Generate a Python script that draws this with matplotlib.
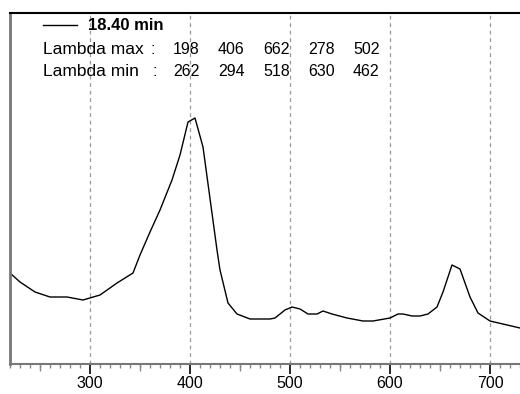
import numpy as np
import matplotlib
matplotlib.use("Agg")
import matplotlib.pyplot as plt
from matplotlib.ticker import MultipleLocator

# spectrum at 18.40 min (wavelength nm, absorbance arbitrary units)
wavelength = [220, 230, 245, 260, 277, 293, 310, 327, 343, 350, 360, 370, 382, 390,
              398, 405, 413, 427, 430, 438, 447, 460, 470, 480, 485, 495, 502, 510,
              518, 527, 533, 542, 557, 573, 583, 600, 608, 613, 622, 630, 638, 647,
              653, 662, 670, 680, 688, 700, 730]
absorb = [91, 82, 72, 67, 67, 64, 69, 81, 91, 109, 132, 154, 184, 209,
          242, 246, 217, 114, 94, 61, 50, 45, 45, 45, 46, 54, 57, 55,
          50, 50, 53, 50, 46, 43, 43, 46, 50, 50, 48, 48, 50, 57,
          72, 99, 95, 67, 51, 43, 36]

trace_label = "18.40 min"
lambda_max = [198, 406, 662, 278, 502]
lambda_min = [262, 294, 518, 630, 462]

W, H = 520, 394
plt.rcParams['font.family'] = ['Liberation Sans', 'DejaVu Sans']
fig = plt.figure(figsize=(W / 100, H / 100), dpi=100)
ax = fig.add_axes([10 / W, 1 - 364 / H, 510 / W, 351 / H])

ax.plot(wavelength, absorb, color='black', lw=1.0)
ax.set_xlim(220, 730)
ax.set_ylim(0, 351)

for x in range(300, 701, 100):
    ax.axvline(x, color='#999999', lw=0.9, ls=(0, (3, 3)), zorder=0)

ax.xaxis.set_major_locator(MultipleLocator(100))
ax.xaxis.set_minor_locator(MultipleLocator(10))
ax.tick_params(axis='x', which='major', length=7, width=1.2, color='black',
               labelsize=11.5, pad=1.5)
ax.tick_params(axis='x', which='minor', length=3, width=1.0, color='#888888')
ax.set_yticks([])

# medium ticks at the 50s
sec = ax.secondary_xaxis('bottom')
sec.set_xticks(range(250, 731, 100))
sec.set_xticklabels([])
sec.tick_params(length=5, width=1.0, color='#888888')
sec.spines['bottom'].set_visible(False)

ax.spines['right'].set_visible(False)
ax.spines['left'].set_color('#777777')
ax.spines['left'].set_linewidth(2)
ax.spines['bottom'].set_color('#777777')
ax.spines['bottom'].set_linewidth(1.5)
ax.spines['top'].set_color('black')
ax.spines['top'].set_linewidth(1.5)


def px(x, y):
    return x / W, 1 - y / H


fs = 11.5
# legend entry
fig.add_artist(plt.Line2D([43 / W, 77 / W], [1 - 25 / H] * 2, color='black', lw=1.0))
fig.text(*px(88, 25), trace_label, fontsize=12, fontweight='bold', va='center')

fig.text(*px(43, 49), "Lambda max", fontsize=12.5, va='center')
fig.text(*px(150, 49), ":", fontsize=fs, va='center')
fig.text(*px(43, 72), "Lambda min", fontsize=12.5, va='center')
fig.text(*px(153, 72), ":", fontsize=fs, va='center')
for i, (mx, mn) in enumerate(zip(lambda_max, lambda_min)):
    xp = 173 + 45 * i
    fig.text(*px(xp, 49), str(mx), fontsize=fs, va='center')
    fig.text(*px(xp, 72), str(mn), fontsize=fs, va='center')

fig.savefig("out.png", dpi=100)
